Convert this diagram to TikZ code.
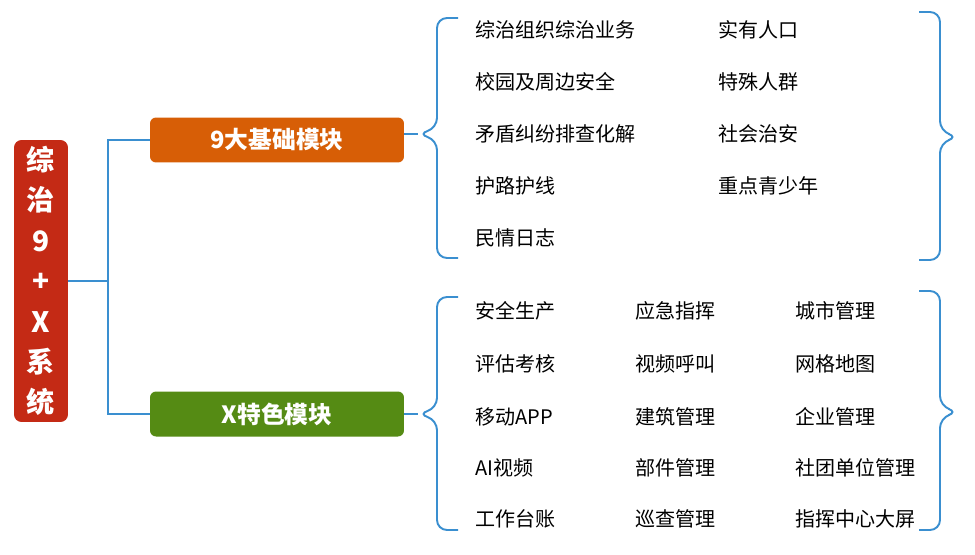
\documentclass[tikz,border=0pt]{standalone}
\usepackage{fontspec}
\setmainfont{Noto Sans CJK SC}
\definecolor{lineblue}{HTML}{3A8FD0}
\definecolor{rootred}{HTML}{C42A15}
\definecolor{boxorange}{HTML}{D75E06}
\definecolor{boxgreen}{HTML}{558B14}
\begin{document}
\begin{tikzpicture}[x=0.02cm,y=-0.02cm,
  link/.style={draw=lineblue,line width=1.1pt},
  bracep/.style={draw=lineblue,line width=1.1pt,rounded corners=0.2cm},
  item/.style={anchor=west,inner sep=0pt,font=\fontsize{11.4pt}{13pt}\selectfont},
  modbox/.style={rounded corners=0.12cm,minimum width=5.08cm,minimum height=0.9cm,text=white,font=\fontsize{13.5pt}{15pt}\selectfont\bfseries}]
\useasboundingbox (0,0) rectangle (975,555);
\node[fill=rootred,rounded corners=0.15cm,minimum width=1.08cm,minimum height=5.64cm,text=white,align=center,font=\fontsize{16pt}{23pt}\selectfont\bfseries] (root) at (41,281) {综\\治\\9\\+\\X\\系\\统};
\node[modbox,fill=boxorange] (m1) at (277,140) {9大基础模块};
\node[modbox,fill=boxgreen] (m2) at (277,414) {X特色模块};
\coordinate (j) at (108,281);
\draw[link] (root.east |- j) -- (j) (m1.west) -| (j) |- (m2.west);
% braces
\coordinate (t1) at (418,134);
\coordinate (t2) at (418,414);
\draw[link] (m1.east |- t1) -- (t1);
\draw[link] (m2.east |- t2) -- (t2);
\draw[bracep] (458,18) -- (437,18) -- (437,128) -- (t1) -- (437,140) -- (437,258) -- (458,258);
\draw[bracep] (919,12) -- (940,12) -- (940,131) -- (958,137) -- (940,143) -- (940,260) -- (919,260);
\draw[bracep] (458,297) -- (437,297) -- (437,408) -- (t2) -- (437,420) -- (437,530) -- (458,530);
\draw[bracep] (919,291) -- (940,291) -- (940,406) -- (958,412) -- (940,418) -- (940,530) -- (919,530);
% items top
\node[item] (a1) at (475,30) {综治组织综治业务};
\node[item] (a2) at (718,30) {实有人口};
\node[item] (a3) at (475,82) {校园及周边安全};
\node[item] (a4) at (718,82) {特殊人群};
\node[item] (a5) at (475,134) {矛盾纠纷排查化解};
\node[item] (a6) at (718,134) {社会治安};
\node[item] (a7) at (475,186) {护路护线};
\node[item] (a8) at (718,186) {重点青少年};
\node[item] (a9) at (475,238) {民情日志};
% items bottom
\node[item] (b1) at (475,311) {安全生产};
\node[item] (b2) at (635,311) {应急指挥};
\node[item] (b3) at (795,311) {城市管理};
\node[item] (b4) at (475,364) {评估考核};
\node[item] (b5) at (635,364) {视频呼叫};
\node[item] (b6) at (795,364) {网格地图};
\node[item] (b7) at (475,417) {移动APP};
\node[item] (b8) at (635,417) {建筑管理};
\node[item] (b9) at (795,417) {企业管理};
\node[item] (b10) at (475,468) {AI视频};
\node[item] (b11) at (635,468) {部件管理};
\node[item] (b12) at (795,468) {社团单位管理};
\node[item] (b13) at (475,519) {工作台账};
\node[item] (b14) at (635,519) {巡查管理};
\node[item] (b15) at (795,519) {指挥中心大屏};
\end{tikzpicture}
\end{document}
